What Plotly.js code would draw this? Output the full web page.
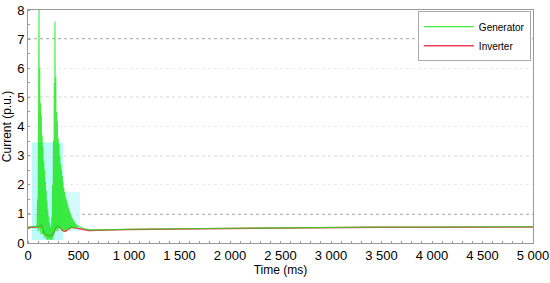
<!DOCTYPE html>
<html>
<head>
<meta charset="utf-8">
<script src="https://cdn.plot.ly/plotly-3.0.1.min.js"></script>
<style>
  html, body { margin: 0; padding: 0; background: #fff; }
  #chart { width: 550px; height: 283px; }
</style>
</head>
<body>
<div id="chart"></div>
<script>
// generator current (dense oscillation during the fault)
const genTime = [0, 20, 40, 60, 80, 90, 95, 100, 105, 109, 112, 116, 120, 124, 128, 132, 136, 140, 144, 148,
  152, 156, 160, 164, 168, 172, 176, 180, 184, 188, 192, 196, 200, 204, 208, 212, 216, 220, 224, 228,
  232, 236, 240, 244, 248, 252, 256, 260, 264, 267, 271, 275, 279, 283, 287, 291, 295, 299, 303, 307,
  311, 315, 319, 323, 327, 331, 335, 339, 343, 347, 351, 355, 359, 363, 367, 371, 375, 379, 383, 387,
  391, 395, 399, 403, 407, 411, 415, 419, 423, 427, 431, 435, 439, 443, 447, 451, 455, 459, 463, 467,
  471, 475, 480, 490, 500, 520, 550, 600, 700, 800, 1000, 1500, 2000, 2500, 3000, 3500, 4000, 4500, 5000];
const genCurrent = [0.55, 0.55, 0.56, 0.56, 0.57, 0.6, 1.5, 0.4, 5.0, 8.0, 0.5, 6.0, 0.4, 4.8, 0.3, 4.4, 0.5, 3.7, 0.3, 3.3,
  0.4, 2.8, 0.2, 2.5, 0.3, 2.1, 0.15, 1.8, 0.2, 1.45, 0.1, 1.15, 0.15, 0.9, 0.1, 0.7, 0.15, 0.55, 0.1, 0.6,
  0.15, 0.9, 0.1, 2.0, 0.2, 3.5, 0.3, 5.5, 0.4, 7.6, 0.5, 5.7, 0.4, 4.5, 0.5, 4.2, 0.4, 3.6, 0.5, 3.4,
  0.5, 3.0, 0.5, 2.7, 0.5, 2.5, 0.4, 2.3, 0.5, 2.1, 0.4, 1.9, 0.45, 1.75, 0.4, 1.6, 0.45, 1.5, 0.45, 1.4,
  0.45, 1.3, 0.5, 1.2, 0.5, 1.1, 0.5, 1.02, 0.5, 0.95, 0.5, 0.88, 0.5, 0.82, 0.5, 0.77, 0.52, 0.72, 0.52, 0.68,
  0.53, 0.65, 0.54, 0.6, 0.56, 0.55, 0.5, 0.46, 0.45, 0.46, 0.47, 0.49, 0.51, 0.53, 0.54, 0.55, 0.55, 0.56, 0.56];

const invTime = [0, 50, 100, 120, 130, 140, 150, 160, 180, 200, 220, 240, 255, 270, 290, 310, 330, 350, 370, 390,
  410, 430, 460, 500, 550, 600, 700, 800, 1000, 1500, 2000, 2500, 3000, 3500, 4000, 4500, 5000];
const invCurrent = [0.53, 0.53, 0.55, 0.6, 0.62, 0.55, 0.42, 0.32, 0.28, 0.26, 0.25, 0.27, 0.35, 0.5, 0.58, 0.55, 0.48, 0.42, 0.4, 0.45,
  0.52, 0.55, 0.52, 0.5, 0.46, 0.43, 0.44, 0.45, 0.46, 0.48, 0.5, 0.52, 0.53, 0.54, 0.54, 0.55, 0.55];

const xTicks = [0, 500, 1000, 1500, 2000, 2500, 3000, 3500, 4000, 4500, 5000];
const yTicks = [0, 1, 2, 3, 4, 5, 6, 7, 8];
const darkGrid = [1, 3, 5, 7];

// light cyan bands behind the fault transient: [x0, x1, y0, y1]
const bands = [[40, 347, 0.1, 3.45], [347, 515, 0.4, 1.75]];
const bandColors = ["rgba(160,246,246,0.7)", "rgba(200,250,250,0.8)"];

const shapes = [];
bands.forEach((b, i) => {
  shapes.push({ type: "rect", xref: "x", yref: "y", x0: b[0], x1: b[1], y0: b[2], y1: b[3],
    fillcolor: bandColors[i], line: { width: 0 }, layer: "below" });
});
darkGrid.forEach((v) => {
  shapes.push({ type: "line", xref: "paper", yref: "y", x0: 0, x1: 1, y0: v, y1: v,
    line: { color: "#444", width: 1, dash: "dot" }, layer: "below" });
});

const font = "Liberation Sans, Arial, sans-serif";

Plotly.newPlot("chart", [
  { x: invTime, y: invCurrent, name: "Inverter", type: "scatter", mode: "lines",
    line: { color: "#e8405a", width: 1.5 } },
  { x: genTime, y: genCurrent, name: "Generator", type: "scatter", mode: "lines",
    line: { color: "rgba(20,230,20,0.8)", width: 1.1 } },
], {
  width: 550, height: 283,
  margin: { l: 28, r: 17, t: 10, b: 40 },
  paper_bgcolor: "#fff", plot_bgcolor: "#fff",
  font: { family: font, size: 13, color: "#000" },
  separators: ". ",
  showlegend: true,
  legend: { x: 0.772, y: 0.995, xanchor: "left", yanchor: "top", traceorder: "reversed",
    bgcolor: "#fff", bordercolor: "#aaa", borderwidth: 1, font: { size: 10 }, itemwidth: 50 },
  xaxis: { range: [0, 5000], tickvals: xTicks, tickformat: ",", showgrid: false, zeroline: false,
    showline: true, linecolor: "#999", mirror: true, ticks: "",
    minor: { dtick: 100, ticks: "inside", ticklen: 2, tickcolor: "#999" },
    title: { text: "Time (ms)", font: { size: 12 }, standoff: 4 } },
  yaxis: { range: [0, 8], tickvals: yTicks, showgrid: true, gridcolor: "#ececec", griddash: "dot",
    zeroline: false, showline: true, linecolor: "#999", mirror: true, ticks: "",
    minor: { dtick: 0.5, ticks: "inside", ticklen: 2, tickcolor: "#999" },
    title: { text: "Current (p.u.)", font: { size: 12 }, standoff: 4 } },
  shapes: shapes,
}, { displayModeBar: false });
</script>
</body>
</html>
